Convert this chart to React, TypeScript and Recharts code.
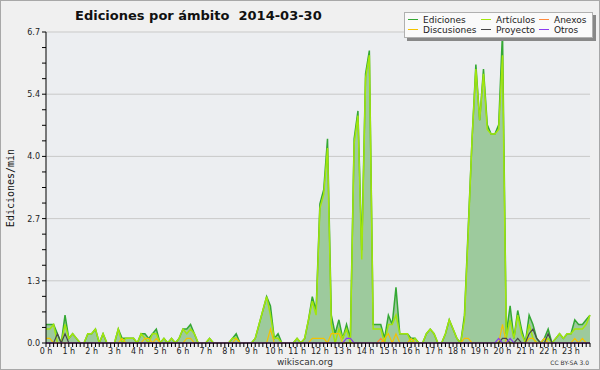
import { ComposedChart, Area, Line, XAxis, YAxis, CartesianGrid } from "recharts";

// 10-minute bins, 6 per hour, 144 per day (rows = hours 0..23)
const ediciones = [
  0.4, 0.4, 0.4, 0.2, 0.0, 0.6,
  0.1, 0.2, 0.1, 0.0, 0.0, 0.2,
  0.2, 0.3, 0.0, 0.2, 0.0, 0.0,
  0.0, 0.3, 0.1, 0.1, 0.1, 0.1,
  0.0, 0.2, 0.2, 0.1, 0.2, 0.3,
  0.0, 0.1, 0.0, 0.1, 0.0, 0.1,
  0.3, 0.3, 0.4, 0.2, 0.0, 0.0,
  0.0, 0.1, 0.0, 0.0, 0.0, 0.0,
  0.0, 0.1, 0.2, 0.0, 0.0, 0.0,
  0.0, 0.1, 0.4, 0.7, 1.0, 0.8,
  0.1, 0.2, 0.0, 0.0, 0.0, 0.0,
  0.1, 0.0, 0.1, 0.5, 1.0, 0.7,
  3.0, 3.3, 4.4, 0.6, 0.2, 0.5,
  0.1, 0.4, 0.1, 4.4, 5.0, 2.0,
  5.8, 6.3, 0.4, 0.4, 0.4, 0.1,
  0.6, 0.4, 1.2, 0.2, 0.2, 0.2,
  0.1, 0.1, 0.0, 0.0, 0.2, 0.3,
  0.2, 0.0, 0.0, 0.2, 0.5, 0.3,
  0.1, 0.0, 0.6, 2.5, 4.4, 6.0,
  4.8, 5.9, 4.7, 4.5, 4.5, 4.7,
  6.7, 0.2, 0.8, 0.1, 0.7, 0.3,
  0.0, 0.6, 0.4, 0.1, 0.0, 0.1,
  0.3, 0.0, 0.1, 0.2, 0.1, 0.2,
  0.2, 0.5, 0.4, 0.4, 0.5, 0.6,
];

const articulos = [
  0.3, 0.3, 0.4, 0.0, 0.0, 0.4,
  0.1, 0.2, 0.1, 0.0, 0.0, 0.2,
  0.2, 0.3, 0.0, 0.2, 0.0, 0.0,
  0.0, 0.3, 0.0, 0.1, 0.1, 0.1,
  0.0, 0.2, 0.1, 0.0, 0.2, 0.2,
  0.0, 0.1, 0.0, 0.1, 0.0, 0.1,
  0.3, 0.2, 0.3, 0.2, 0.0, 0.0,
  0.0, 0.1, 0.0, 0.0, 0.0, 0.0,
  0.0, 0.1, 0.1, 0.0, 0.0, 0.0,
  0.0, 0.1, 0.4, 0.7, 1.0, 0.6,
  0.1, 0.1, 0.0, 0.0, 0.0, 0.0,
  0.1, 0.0, 0.1, 0.5, 0.9, 0.6,
  2.9, 3.2, 4.2, 0.4, 0.0, 0.3,
  0.1, 0.3, 0.0, 4.3, 4.9, 1.8,
  5.7, 6.2, 0.3, 0.3, 0.3, 0.0,
  0.4, 0.4, 0.6, 0.2, 0.2, 0.2,
  0.0, 0.1, 0.0, 0.0, 0.2, 0.3,
  0.2, 0.0, 0.0, 0.2, 0.5, 0.3,
  0.1, 0.0, 0.5, 2.4, 4.4, 5.9,
  4.8, 5.8, 4.6, 4.5, 4.5, 4.6,
  6.2, 0.1, 0.5, 0.1, 0.6, 0.2,
  0.0, 0.4, 0.1, 0.0, 0.0, 0.0,
  0.1, 0.0, 0.1, 0.2, 0.1, 0.2,
  0.2, 0.3, 0.3, 0.3, 0.4, 0.6,
];

const discusiones = [
  0.1, 0.1, 0, 0, 0, 0,
  0, 0, 0, 0, 0, 0,
  0, 0, 0, 0, 0, 0,
  0, 0, 0.1, 0, 0, 0,
  0, 0, 0.1, 0.1, 0, 0.1,
  0, 0, 0, 0, 0, 0,
  0, 0.1, 0.1, 0, 0, 0,
  0, 0, 0, 0, 0, 0,
  0, 0, 0.1, 0, 0, 0,
  0, 0, 0, 0, 0, 0.3,
  0, 0, 0, 0, 0, 0,
  0, 0, 0, 0, 0.1, 0.1,
  0.1, 0.1, 0, 0.2, 0.2, 0.2,
  0, 0, 0, 0, 0, 0,
  0, 0, 0, 0, 0, 0.1,
  0.2, 0, 0.2, 0, 0, 0,
  0.1, 0, 0, 0, 0, 0,
  0, 0, 0, 0, 0, 0,
  0, 0, 0.1, 0.1, 0, 0,
  0, 0, 0, 0, 0, 0,
  0.4, 0, 0, 0, 0, 0,
  0, 0.1, 0.1, 0, 0, 0.1,
  0, 0, 0, 0, 0, 0,
  0, 0.1, 0, 0.1, 0, 0,
];

const proyecto = [
  0, 0, 0, 0.2, 0, 0.2,
  0, 0, 0, 0, 0, 0,
  0, 0, 0, 0, 0, 0,
  0, 0, 0, 0, 0, 0,
  0, 0, 0, 0, 0, 0,
  0, 0, 0, 0, 0, 0,
  0, 0, 0, 0, 0, 0,
  0, 0, 0, 0, 0, 0,
  0, 0, 0, 0, 0, 0,
  0, 0, 0, 0, 0, 0,
  0, 0, 0, 0, 0, 0,
  0, 0, 0, 0, 0, 0,
  0, 0, 0, 0, 0, 0,
  0, 0, 0, 0, 0, 0,
  0, 0, 0, 0, 0, 0,
  0, 0, 0, 0, 0, 0,
  0, 0, 0, 0, 0, 0,
  0, 0, 0, 0, 0, 0,
  0, 0, 0, 0, 0, 0,
  0, 0, 0, 0, 0, 0,
  0.1, 0.1, 0, 0, 0.1, 0,
  0, 0.2, 0.3, 0.1, 0, 0,
  0.2, 0, 0, 0, 0, 0,
  0, 0, 0, 0, 0, 0,
];

const otros = [
  0, 0, 0, 0, 0, 0,
  0, 0, 0, 0, 0, 0,
  0, 0, 0, 0, 0, 0,
  0, 0, 0, 0, 0, 0,
  0, 0, 0, 0, 0, 0,
  0, 0, 0, 0, 0, 0,
  0, 0, 0, 0, 0, 0,
  0, 0, 0, 0, 0, 0,
  0, 0, 0, 0, 0, 0,
  0, 0, 0, 0, 0, 0,
  0, 0, 0, 0, 0, 0,
  0, 0, 0, 0, 0, 0,
  0, 0, 0, 0, 0, 0,
  0, 0.1, 0.1, 0, 0, 0,
  0, 0, 0, 0, 0, 0,
  0, 0, 0, 0, 0, 0,
  0, 0, 0, 0, 0, 0,
  0, 0, 0, 0, 0, 0,
  0, 0, 0, 0, 0, 0,
  0, 0, 0, 0, 0, 0.1,
  0, 0, 0.1, 0, 0, 0,
  0, 0, 0, 0, 0, 0,
  0, 0, 0, 0, 0, 0,
  0, 0, 0, 0, 0, 0,
];

const anexos = [
  0, 0, 0, 0, 0, 0,
  0, 0, 0, 0, 0, 0,
  0, 0, 0, 0, 0, 0,
  0, 0, 0, 0, 0, 0,
  0, 0, 0, 0, 0, 0,
  0, 0, 0, 0, 0, 0,
  0, 0, 0, 0, 0, 0,
  0, 0, 0, 0, 0, 0,
  0, 0, 0, 0, 0, 0,
  0, 0, 0, 0, 0, 0,
  0, 0, 0, 0, 0, 0,
  0, 0, 0, 0, 0, 0,
  0, 0, 0, 0, 0, 0,
  0, 0, 0, 0, 0, 0,
  0, 0, 0, 0, 0.1, 0,
  0, 0, 0, 0, 0, 0,
  0, 0, 0, 0, 0, 0,
  0, 0, 0, 0, 0, 0,
  0, 0, 0, 0, 0, 0,
  0, 0, 0, 0, 0, 0,
  0, 0, 0, 0, 0, 0,
  0, 0, 0, 0, 0, 0,
  0, 0, 0, 0, 0, 0,
  0, 0, 0, 0, 0, 0,
];

const hourLabels = [
  "0 h", "1 h", "2 h", "3 h", "4 h", "5 h", "6 h", "7 h", "8 h", "9 h", "10 h", "11 h",
  "12 h", "13 h", "14 h", "15 h", "16 h", "17 h", "18 h", "19 h", "20 h", "21 h", "22 h", "23 h",
];

const yMax = 6.7;
const yMajor = [0, 1.34, 2.68, 4.02, 5.36, 6.7];
const yLabels = ["0.0", "1.3", "2.7", "4.0", "5.4", "6.7"];
// 3 minor ticks between labelled ones
const yTicks = Array.from({ length: 21 }, (_, k) => +(k * 0.335).toFixed(3));
const xTicks = ediciones.map((_, i) => i);

const data = ediciones.map((v, i) => ({
  i,
  ediciones: v,
  articulos: articulos[i],
  discusiones: discusiones[i],
  proyecto: proyecto[i],
  otros: otros[i],
  anexos: anexos[i],
}));

const colors = {
  ediciones: "#34a834",
  articulos: "#a2e60c",
  anexos: "#ff8a3d",
  discusiones: "#f4c300",
  proyecto: "#474747",
  otros: "#8b3cf0",
};

const font = "DejaVu Sans";

function XTick(props: any) {
  const { x, y, payload } = props;
  const i = payload.value;
  if (i % 6 !== 0) return <g />;
  return (
    <text x={x} y={y + 5} textAnchor="middle" fontSize={8} fill="#222" fontFamily={font}>
      {hourLabels[i / 6]}
    </text>
  );
}

function YTick(props: any) {
  const { x, y, payload } = props;
  const k = yMajor.findIndex((m) => Math.abs(m - payload.value) < 0.01);
  if (k < 0) return <g />;
  return (
    <text x={x} y={y + 3} textAnchor="end" fontSize={8} fill="#222" fontFamily={font}>
      {yLabels[k]}
    </text>
  );
}

const legendItems = [
  { name: "Ediciones", color: colors.ediciones, x: 408, row: 0 },
  { name: "Artículos", color: colors.articulos, x: 481, row: 0 },
  { name: "Anexos", color: colors.anexos, x: 539, row: 0 },
  { name: "Discusiones", color: colors.discusiones, x: 408, row: 1 },
  { name: "Proyecto", color: colors.proyecto, x: 481, row: 1 },
  { name: "Otros", color: colors.otros, x: 539, row: 1 },
];

export default function App() {
  return (
    <div style={{ position: "absolute", left: 0, top: 0, width: 600, height: 370, background: "#f0f0f0" }}>
      <ComposedChart
        width={600}
        height={370}
        data={data}
        margin={{ top: 32, right: 10, bottom: 6, left: 0 }}
      >
        <CartesianGrid
          vertical={false}
          horizontalValues={yMajor}
          stroke="#c9c9c9"
          fill="#eceef1"
        />
        <Area
          type="linear"
          dataKey="ediciones"
          stroke={colors.ediciones}
          strokeWidth={1.5}
          fill="#9dca9d"
          fillOpacity={1}
          dot={false}
          activeDot={false}
          isAnimationActive={false}
        />
        <Line type="linear" dataKey="articulos" stroke={colors.articulos} strokeWidth={1.5} dot={false} activeDot={false} isAnimationActive={false} />
        <Line type="linear" dataKey="anexos" stroke={colors.anexos} strokeWidth={1.2} dot={false} activeDot={false} isAnimationActive={false} />
        <Line type="linear" dataKey="discusiones" stroke={colors.discusiones} strokeWidth={1.2} dot={false} activeDot={false} isAnimationActive={false} />
        <Line type="linear" dataKey="proyecto" stroke={colors.proyecto} strokeWidth={1.2} dot={false} activeDot={false} isAnimationActive={false} />
        <Line type="linear" dataKey="otros" stroke={colors.otros} strokeWidth={1.2} dot={false} activeDot={false} isAnimationActive={false} />
        <XAxis
          dataKey="i"
          type="number"
          domain={[0, 143]}
          ticks={xTicks}
          interval={0}
          height={21}
          tickSize={4}
          tick={<XTick />}
          axisLine={{ stroke: "#000" }}
          tickLine={{ stroke: "#000" }}
        />
        <YAxis
          type="number"
          domain={[0, yMax]}
          ticks={yTicks}
          interval={0}
          width={46}
          tickSize={4}
          tick={<YTick />}
          axisLine={{ stroke: "#000" }}
          tickLine={{ stroke: "#000" }}
        />
      </ComposedChart>
      <svg
        width={600}
        height={370}
        style={{ position: "absolute", left: 0, top: 0, pointerEvents: "none" }}
      >
        <text
          x={75}
          y={20}
          fontSize={13}
          fontWeight="bold"
          fontFamily={font}
          fill="#111"
          style={{ whiteSpace: "pre" }}
        >
          {"Ediciones por ámbito  2014-03-30"}
        </text>
        <text
          transform="translate(13.5,188) rotate(-90)"
          textAnchor="middle"
          fontSize={10}
          fontFamily="DejaVu Sans Mono"
          fill="#111"
        >
          Ediciones/min
        </text>
        <rect x={407} y={15} width={189} height={26} fill="#888" />
        <rect x={404.5} y={12.5} width={188} height={25} fill="#fafafa" stroke="#b0b0b0" />
        {legendItems.map((it) => (
          <g key={it.name}>
            <line
              x1={it.x}
              x2={it.x + 10}
              y1={19.5 + it.row * 10}
              y2={19.5 + it.row * 10}
              stroke={it.color}
              strokeWidth={1}
            />
            <text x={it.x + 15} y={22.5 + it.row * 10} fontSize={9} fontFamily={font} fill="#222">
              {it.name}
            </text>
          </g>
        ))}
        <text x={305} y={365} textAnchor="middle" fontSize={9} fontFamily={font} fill="#333">
          wikiscan.org
        </text>
        <text x={589} y={365} textAnchor="end" fontSize={6} fontFamily={font} fill="#333">
          CC BY-SA 3.0
        </text>
      </svg>
      <div
        style={{
          position: "absolute",
          left: 0,
          top: 0,
          width: 600,
          height: 370,
          boxSizing: "border-box",
          border: "1px solid #a8a8a8",
          pointerEvents: "none",
        }}
      />
    </div>
  );
}
